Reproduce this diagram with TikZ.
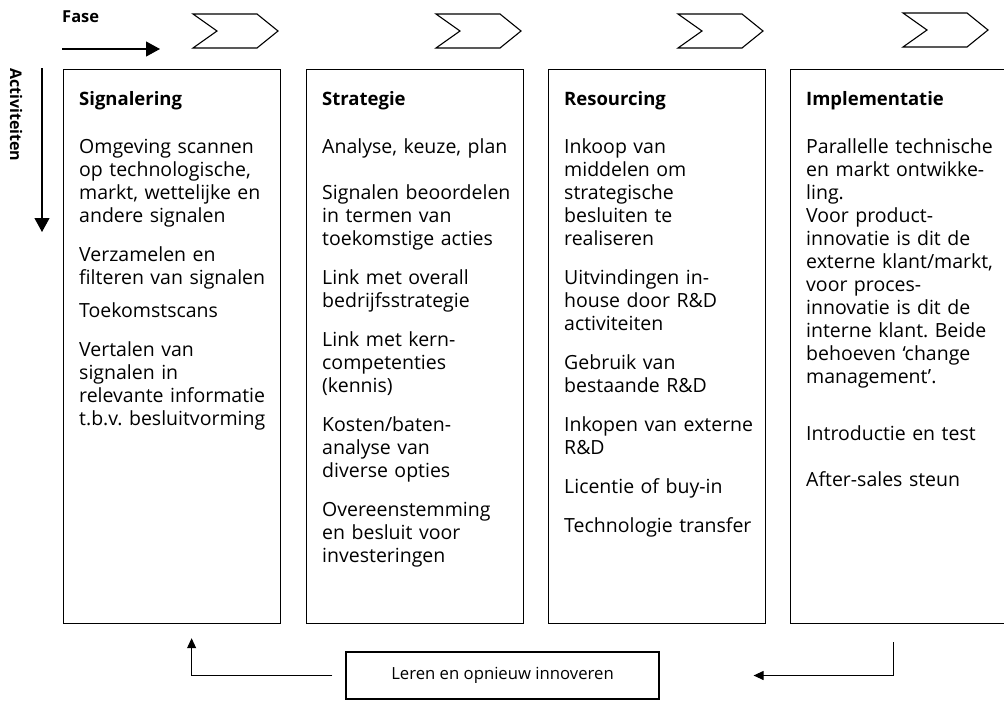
\documentclass[tikz,border=0pt]{standalone}
\usepackage{fontspec}
\setmainfont{Open Sans}
\frenchspacing
\usetikzlibrary{arrows.meta}

\tikzset{
  kolom/.style={draw, line width=1.2pt, anchor=north west, minimum width=217pt, minimum height=554pt, inner sep=0pt},
  kop/.style={anchor=base west, inner sep=0pt, font=\bfseries\fontsize{18.5}{22}\selectfont},
  tekst/.style={anchor=base west, inner sep=0pt, text width=200pt, align=left, font=\fontsize{19.5}{23}\selectfont},
  as/.style={line width=1.1pt, -{Triangle[length=14pt,width=15pt]}},
  terug/.style={line width=1.1pt, -{Triangle[length=10pt,width=9pt]}},
}

\begin{document}
\begin{tikzpicture}[x=1pt,y=1pt]
\useasboundingbox (0,0) rectangle (1004,-726);

%Assen
\node[kop, font=\bfseries\fontsize{16.5}{20}\selectfont] (fase) at (62,-22) {Fase};
\coordinate (fa) at (62,-49);
\coordinate (fb) at (160,-49);
\draw[as] (fa) -- (fb);
\node[kop, rotate=-90, font=\bfseries\fontsize{16}{19}\selectfont] (act) at (10,-68) {Activiteiten};
\coordinate (aa) at (42,-68);
\coordinate (ab) at (42,-232);
\draw[as] (aa) -- (ab);

%Fasen
\foreach \x/\y in {193/14, 436/14, 678/14, 903/13}
  \draw[line width=1.1pt] (\x,-\y) -- ++(64,0) -- ++(21,-17) -- ++(-21,-17) -- ++(-64,0) -- ++(24,17) -- cycle;

%Kolommen
\node[kolom] (k1) at (63,-69) {};
\node[kolom] (k2) at (306,-69) {};
\node[kolom] (k3) at (548,-69) {};
\node[kolom] (k4) at (790,-69) {};

\node[kop] (t1) at (79,-105) {Signalering};
\node[kop] (t2) at (322,-105) {Strategie};
\node[kop] (t3) at (564,-105) {Resourcing};
\node[kop] (t4) at (806,-105) {Implementatie};

\node[tekst] (s1) at (79,-153) {Omgeving scannen\\ op technologische,\\ markt, wettelijke en\\ andere signalen\\[16pt]
Verzamelen en\\ filteren van signalen\\[10pt]
Toekomstscans\\[16pt]
Vertalen van\\ signalen in\\ relevante informatie\\ t.b.v. besluitvorming};

\node[tekst] (s2) at (322,-153) {Analyse, keuze, plan\\[23pt]
Signalen beoordelen\\ in termen van\\ toekomstige acties\\[16pt]
Link met overall\\ bedrijfsstrategie\\[16pt]
Link met kern-\\ competenties\\ (kennis)\\[16pt]
Kosten/baten-\\ analyse van\\ diverse opties\\[16pt]
Overeenstemming\\ en besluit voor\\ investeringen};

\node[tekst] (s3) at (564,-153) {Inkoop van\\ middelen om\\ strategische\\ besluiten te\\ realiseren\\[16pt]
Uitvindingen in-\\ house door R\&D\\ activiteiten\\[16pt]
Gebruik van\\ bestaande R\&D\\[16pt]
Inkopen van externe\\ R\&D\\[16pt]
Licentie of buy-in\\[16pt]
Technologie transfer};

\node[tekst] (s4) at (806,-153) {Parallelle technische\\ en markt ontwikke-\\ ling.\\ Voor product-\\ innovatie is dit de\\ externe klant/markt,\\ voor proces-\\ innovatie is dit de\\ interne klant. Beide\\ behoeven ‘change\\ management’.\\[34pt]
Introductie en test\\[23pt]
After-sales steun};

%Terugkoppeling
\node[draw, line width=1.2pt, minimum width=313pt, minimum height=47pt, inner sep=0pt, font=\fontsize{16.7}{20}\selectfont] (leren) at (502.5,-675.5) {Leren en opnieuw innoveren};
\draw[terug] ([xshift=-13pt]leren.west) -| ([xshift=19.5pt,yshift=-14pt]k1.south);
\draw[terug] ([xshift=-5.5pt,yshift=-18pt]k4.south) |- ([xshift=94pt]leren.east);

\end{tikzpicture}
\end{document}
